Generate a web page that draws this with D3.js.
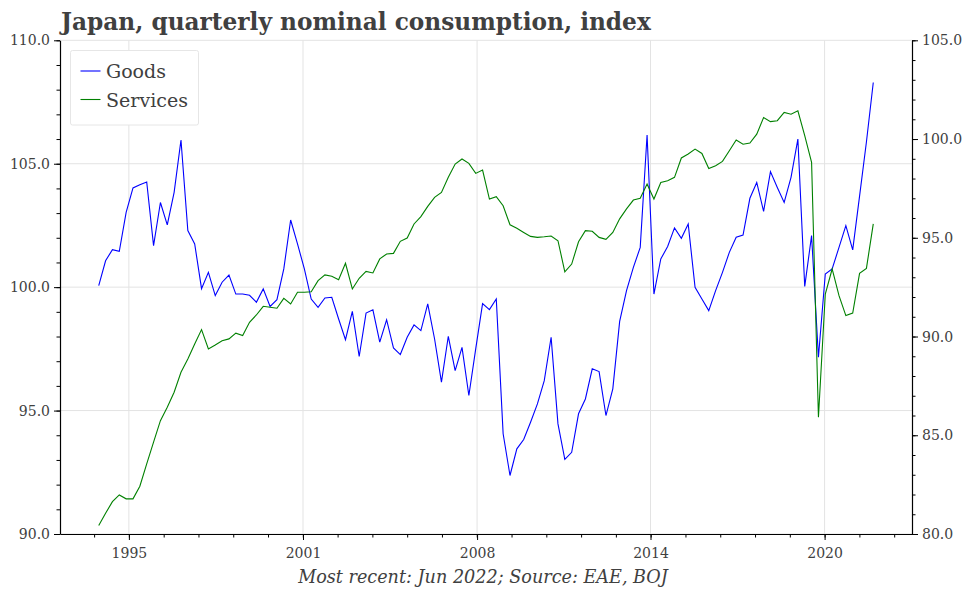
<!DOCTYPE html>
<html>
<head>
<meta charset="utf-8">
<script src="https://cdn.jsdelivr.net/npm/d3@7"></script>
<style>
  body { margin: 0; background: #fff; }
  text { font-family: "DejaVu Serif", serif; }
</style>
</head>
<body>
<svg id="chart" width="972" height="589"></svg>
<script>
// quarterly, 1994 Q1 .. 2022 Q2
const goods = [
  100.06, 101.07, 101.52, 101.45, 103.03, 104.02, 104.15, 104.26, 101.68, 103.43,
  102.52, 103.84, 105.96, 102.29, 101.75, 99.94, 100.60, 99.66, 100.20, 100.49,
  99.72, 99.72, 99.67, 99.39, 99.93, 99.22, 99.49, 100.74, 102.72, 101.75,
  100.74, 99.52, 99.18, 99.56, 99.59, 98.71, 97.87, 99.02, 97.19, 98.95,
  99.08, 97.77, 98.68, 97.54, 97.27, 97.97, 98.47, 98.24, 99.32, 97.90,
  96.15, 98.01, 96.62, 97.56, 95.61, 97.50, 99.33, 99.09, 99.52, 94.06,
  92.37, 93.45, 93.83, 94.53, 95.27, 96.21, 97.97, 94.46, 93.02, 93.31,
  94.87, 95.47, 96.69, 96.58, 94.80, 95.88, 98.61, 99.86, 100.80, 101.61,
  106.16, 99.72, 101.14, 101.65, 102.40, 101.98, 102.56, 99.99, 99.52, 99.05,
  99.86, 100.60, 101.41, 102.02, 102.11, 103.60, 104.24, 103.07, 104.68, 104.04,
  103.43, 104.45, 106.00, 100.03, 102.09, 97.16, 100.53, 100.74, 101.61, 102.49,
  101.51, 103.69, 105.88, 108.29
];
const services = [
  80.43, 81.05, 81.64, 81.98, 81.78, 81.78, 82.42, 83.55, 84.65, 85.74,
  86.42, 87.18, 88.19, 88.86, 89.62, 90.35, 89.37, 89.57, 89.79, 89.88,
  90.17, 90.05, 90.72, 91.09, 91.53, 91.48, 91.43, 91.93, 91.65, 92.24,
  92.24, 92.27, 92.83, 93.12, 93.05, 92.88, 93.71, 92.41, 92.95, 93.30,
  93.22, 93.93, 94.18, 94.21, 94.82, 94.99, 95.70, 96.07, 96.59, 97.05,
  97.30, 98.06, 98.73, 98.99, 98.77, 98.26, 98.43, 96.96, 97.08, 96.62,
  95.66, 95.48, 95.27, 95.07, 95.02, 95.05, 95.09, 94.85, 93.28, 93.67,
  94.80, 95.36, 95.33, 95.02, 94.92, 95.27, 95.96, 96.46, 96.91, 97.00,
  97.72, 96.96, 97.80, 97.89, 98.06, 99.04, 99.24, 99.49, 99.27, 98.51,
  98.65, 98.87, 99.41, 99.95, 99.74, 99.80, 100.25, 101.09, 100.88, 100.93,
  101.35, 101.26, 101.43, 100.17, 98.82, 85.91, 92.15, 93.42, 92.07, 91.06,
  91.19, 93.20, 93.45, 95.70
];
// x ticks sit at quarter positions (index from 1994 Q1)
const xTickPos = [4.4, 29.8, 55.2, 80.5, 105.9];
const xTickLabels = ["1995", "2001", "2008", "2014", "2020"];
const leftTicks = [90, 95, 100, 105, 110];
const rightTicks = [80, 85, 90, 95, 100, 105];
const seriesNames = ["Goods", "Services"];
const seriesColors = ["#0000ff", "#008000"];

const svg = d3.select("#chart");
const plot = { left: 60, right: 912, top: 40.3, bottom: 534 };

const x = d3.scaleLinear()
  .domain([-5.65, goods.length - 1 + 5.65])
  .range([plot.left, plot.right]);
const yL = d3.scaleLinear().domain([90, 110]).range([plot.bottom, plot.top]);
const yR = d3.scaleLinear().domain([80, 105]).range([plot.bottom, plot.top]);

const gridColor = "#e3e3e3";
const textColor = "#404040";

// grid
svg.append("g").selectAll("line").data(xTickPos).join("line")
  .attr("x1", d => x(d)).attr("x2", d => x(d))
  .attr("y1", plot.top).attr("y2", plot.bottom)
  .attr("stroke", gridColor).attr("stroke-width", 1);
svg.append("g").selectAll("line").data(leftTicks).join("line")
  .attr("x1", plot.left).attr("x2", plot.right)
  .attr("y1", d => yL(d)).attr("y2", d => yL(d))
  .attr("stroke", gridColor).attr("stroke-width", 1);

// lines
const lineG = d3.line().x((d, i) => x(i)).y(d => yL(d));
const lineS = d3.line().x((d, i) => x(i)).y(d => yR(d));
svg.append("path").datum(goods)
  .attr("d", lineG).attr("fill", "none")
  .attr("stroke", seriesColors[0]).attr("stroke-width", 1.1);
svg.append("path").datum(services)
  .attr("d", lineS).attr("fill", "none")
  .attr("stroke", seriesColors[1]).attr("stroke-width", 1.1);

// minor ticks
const xStep = (xTickPos[4] - xTickPos[0]) / 4 / 5;
const xMinor = d3.range(xTickPos[0] - xStep, x.domain()[1], xStep)
  .filter(d => d >= x.domain()[0]);

function styleAxis(g) {
  g.select(".domain").attr("stroke", "#000").attr("stroke-width", 1.2);
  g.selectAll(".tick line").attr("stroke", "#000").attr("stroke-width", 1);
  g.selectAll(".tick text")
    .attr("fill", textColor)
    .style("font-family", "DejaVu Serif, serif")
    .style("font-size", "14px");
}

svg.append("g")
  .attr("transform", `translate(0,${plot.bottom})`)
  .call(d3.axisBottom(x).tickValues(xMinor).tickSize(3.5).tickFormat(""))
  .call(g => g.select(".domain").remove())
  .selectAll("line").attr("stroke", "#000");
svg.append("g")
  .attr("transform", `translate(${plot.left},0)`)
  .call(d3.axisLeft(yL).tickValues(d3.range(90, 111, 1)).tickSize(3.5).tickFormat(""))
  .call(g => g.select(".domain").remove())
  .selectAll("line").attr("stroke", "#000");
svg.append("g")
  .attr("transform", `translate(${plot.right},0)`)
  .call(d3.axisRight(yR).tickValues(d3.range(80, 106, 1)).tickSize(3.5).tickFormat(""))
  .call(g => g.select(".domain").remove())
  .selectAll("line").attr("stroke", "#000");

// major axes
svg.append("g")
  .attr("transform", `translate(0,${plot.bottom})`)
  .call(d3.axisBottom(x).tickValues(xTickPos).tickSize(6).tickSizeOuter(0).tickPadding(8)
    .tickFormat((d, i) => xTickLabels[i]))
  .call(styleAxis);
svg.append("g")
  .attr("transform", `translate(${plot.left},0)`)
  .call(d3.axisLeft(yL).tickValues(leftTicks).tickSize(6).tickSizeOuter(0).tickPadding(4)
    .tickFormat(d3.format(".1f")))
  .call(styleAxis);
svg.append("g")
  .attr("transform", `translate(${plot.right},0)`)
  .call(d3.axisRight(yR).tickValues(rightTicks).tickSize(6).tickSizeOuter(0).tickPadding(4)
    .tickFormat(d3.format(".1f")))
  .call(styleAxis);

function fitWidth(sel, target) {
  const w = sel.node().getComputedTextLength();
  const fs = parseFloat(sel.attr("font-size"));
  sel.attr("font-size", fs * target / w);
}

// title
const title = svg.append("text")
  .attr("x", 61).attr("y", 30)
  .attr("font-size", 22).attr("font-weight", "bold")
  .attr("fill", textColor)
  .text("Japan, quarterly nominal consumption, index");
fitWidth(title, 590);

// caption
const caption = svg.append("text")
  .attr("x", 483).attr("y", 583)
  .attr("text-anchor", "middle")
  .attr("font-size", 17).attr("font-style", "italic")
  .attr("fill", textColor)
  .text("Most recent: Jun 2022; Source: EAE, BOJ");
fitWidth(caption, 370);

// legend
const legend = svg.append("g");
legend.append("rect")
  .attr("x", 70.5).attr("y", 50.5).attr("width", 128).attr("height", 74.5)
  .attr("rx", 2).attr("fill", "#fff").attr("stroke", "#e6e6e6");
seriesNames.forEach((name, i) => {
  const yy = 71 + i * 28.5;
  legend.append("line")
    .attr("x1", 80.5).attr("x2", 100.5).attr("y1", yy).attr("y2", yy)
    .attr("stroke", seriesColors[i]).attr("stroke-width", 1.1);
  const t = legend.append("text")
    .attr("x", 106).attr("y", yy + 7)
    .attr("font-size", 19).attr("fill", textColor)
    .text(name);
  if (i === 1) fitWidth(t, 82);
});
</script>
</body>
</html>
